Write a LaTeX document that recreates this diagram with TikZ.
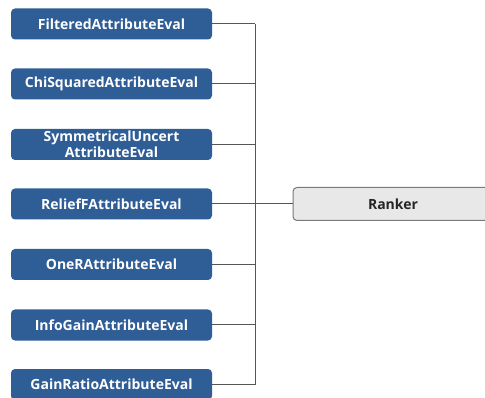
\documentclass[tikz,border=0pt]{standalone}
\usepackage{fontspec}
\setmainfont{Open Sans}
\definecolor{boxblue}{HTML}{2F5D96}
\definecolor{rankfill}{HTML}{E8E8E8}
\definecolor{rankdraw}{HTML}{7A7A7A}
\definecolor{linegray}{HTML}{555555}
\begin{document}
\begin{tikzpicture}[x=1pt,y=-1pt,
  evalbox/.style={draw=none,fill=boxblue,rounded corners=4pt,minimum width=201pt,minimum height=31pt,
    text=white,font=\bfseries\fontsize{14pt}{16pt}\selectfont,align=center,inner sep=0pt},
  rankbox/.style={draw=rankdraw,fill=rankfill,line width=1pt,rounded corners=4pt,minimum width=200pt,minimum height=33pt,
    text=black!85,font=\bfseries\fontsize{14pt}{16pt}\selectfont,inner sep=0pt},
  conn/.style={draw=linegray,line width=1pt}]
\useasboundingbox (0,0) rectangle (485,398);
\clip (0,0) rectangle (485,398);
\node[evalbox] (e1) at (111.5,24) {FilteredAttributeEval};
\node[evalbox] (e2) at (111.5,84) {ChiSquaredAttributeEval};
\node[evalbox] (e3) at (111.5,144.5) {SymmetricalUncert\\AttributeEval};
\node[evalbox] (e4) at (111.5,204) {ReliefFAttributeEval};
\node[evalbox] (e5) at (111.5,264.5) {OneRAttributeEval};
\node[evalbox] (e6) at (111.5,325) {InfoGainAttributeEval};
\node[evalbox] (e7) at (111.5,384.5) {GainRatioAttributeEval};
\node[rankbox] (rk) at (393,204) {Ranker};
\foreach \i in {1,...,7}{
  \coordinate (b\i) at (255,0 |- e\i.east);
  \draw[conn] (e\i.east) -- (b\i);
}
\draw[conn] (b1) -- (b7);
\draw[conn] (b4) -- (rk.west);
\end{tikzpicture}
\end{document}
